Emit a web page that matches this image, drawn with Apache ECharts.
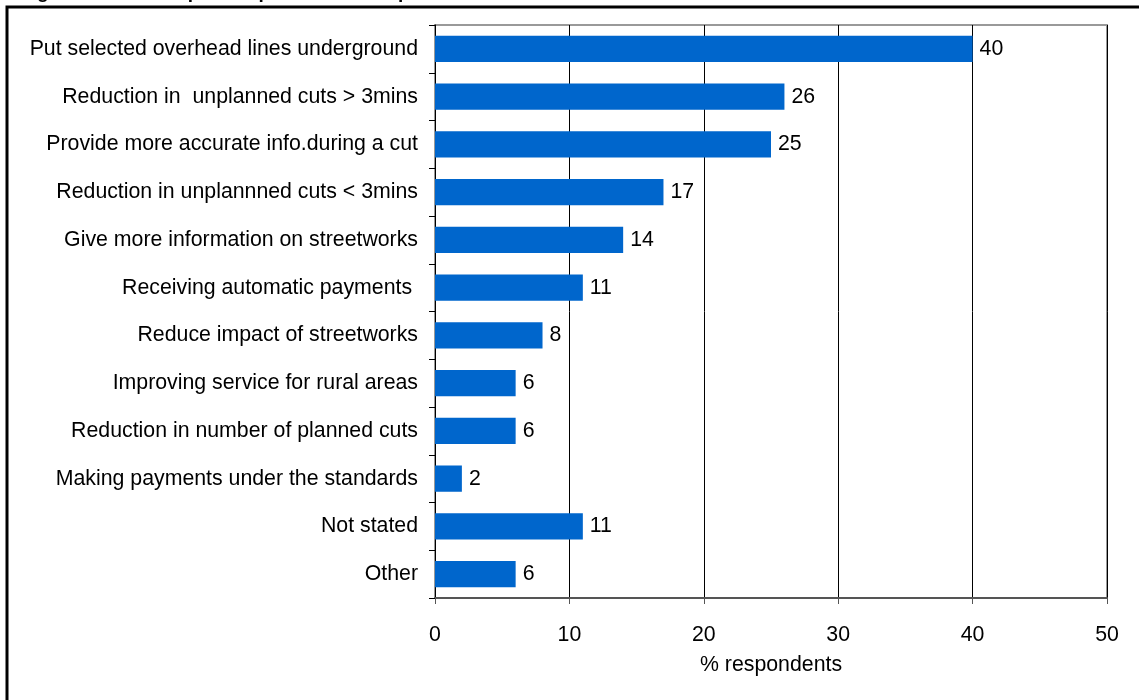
<!DOCTYPE html>
<html>
<head>
<meta charset="utf-8">
<script src="https://cdn.jsdelivr.net/npm/echarts@6/dist/echarts.min.js"></script>
<style>
html,body{margin:0;padding:0;background:#fff;}
#chart{width:1139px;height:700px;}
</style>
</head>
<body>
<div id="chart"></div>
<script>
const categories = [
  "Put selected overhead lines underground",
  "Reduction in  unplanned cuts > 3mins",
  "Provide more accurate info.during a cut",
  "Reduction in unplannned cuts < 3mins",
  "Give more information on streetworks",
  "Receiving automatic payments ",
  "Reduce impact of streetworks",
  "Improving service for rural areas",
  "Reduction in number of planned cuts",
  "Making payments under the standards",
  "Not stated",
  "Other"
];
const values = [40, 26, 25, 17, 14, 11, 8, 6, 6, 2, 11, 6];
const xTicks = [0, 10, 20, 30, 40, 50];
const titleText = "Figure 10: Most important priorities for improvements";
const axisName = "% respondents";

const FONT = "Liberation Sans, Arial, sans-serif";
const FS = 21.3;
const chart = echarts.init(document.getElementById('chart'));
chart.setOption({
  animation: false,
  backgroundColor: '#fff',
  graphic: [
    { type: 'text', left: 20, top: -17, silent: true,
      style: { text: titleText, font: 'bold 19px ' + FONT, fill: '#000' } },
    { type: 'rect', shape: { x: 7, y: 7, width: 1300, height: 900 },
      style: { fill: 'none', stroke: '#000', lineWidth: 3 }, silent: true }
  ],
  grid: {
    left: 435, right: 32, top: 25, bottom: 102,
    show: true, borderColor: '#999', borderWidth: 2, backgroundColor: 'transparent'
  },
  xAxis: {
    type: 'value', min: xTicks[0], max: xTicks[xTicks.length - 1], interval: 10,
    name: axisName, nameLocation: 'middle', nameGap: 57,
    nameTextStyle: { color: '#000', fontSize: FS, fontFamily: FONT },
    axisLine: { show: true, lineStyle: { color: '#555', width: 2 } },
    axisTick: { show: true, length: 6, lineStyle: { color: '#555', width: 1 } },
    axisLabel: { color: '#000', fontSize: FS, fontFamily: FONT, margin: 27 },
    splitLine: { show: true, lineStyle: { color: '#000', width: 1 } }
  },
  yAxis: {
    type: 'category', data: categories, inverse: true,
    axisLine: { show: true, lineStyle: { color: '#000', width: 1 } },
    axisTick: { show: true, length: 6, lineStyle: { color: '#000' } },
    axisLabel: { color: '#000', fontSize: FS, fontFamily: FONT, margin: 17 },
    splitLine: { show: false }
  },
  series: [{
    type: 'bar', data: values, barCategoryGap: '45%',
    itemStyle: { color: '#0066CC' },
    label: { show: true, position: 'right', distance: 7, color: '#000', fontSize: FS, fontFamily: FONT }
  }]
});
</script>
</body>
</html>
